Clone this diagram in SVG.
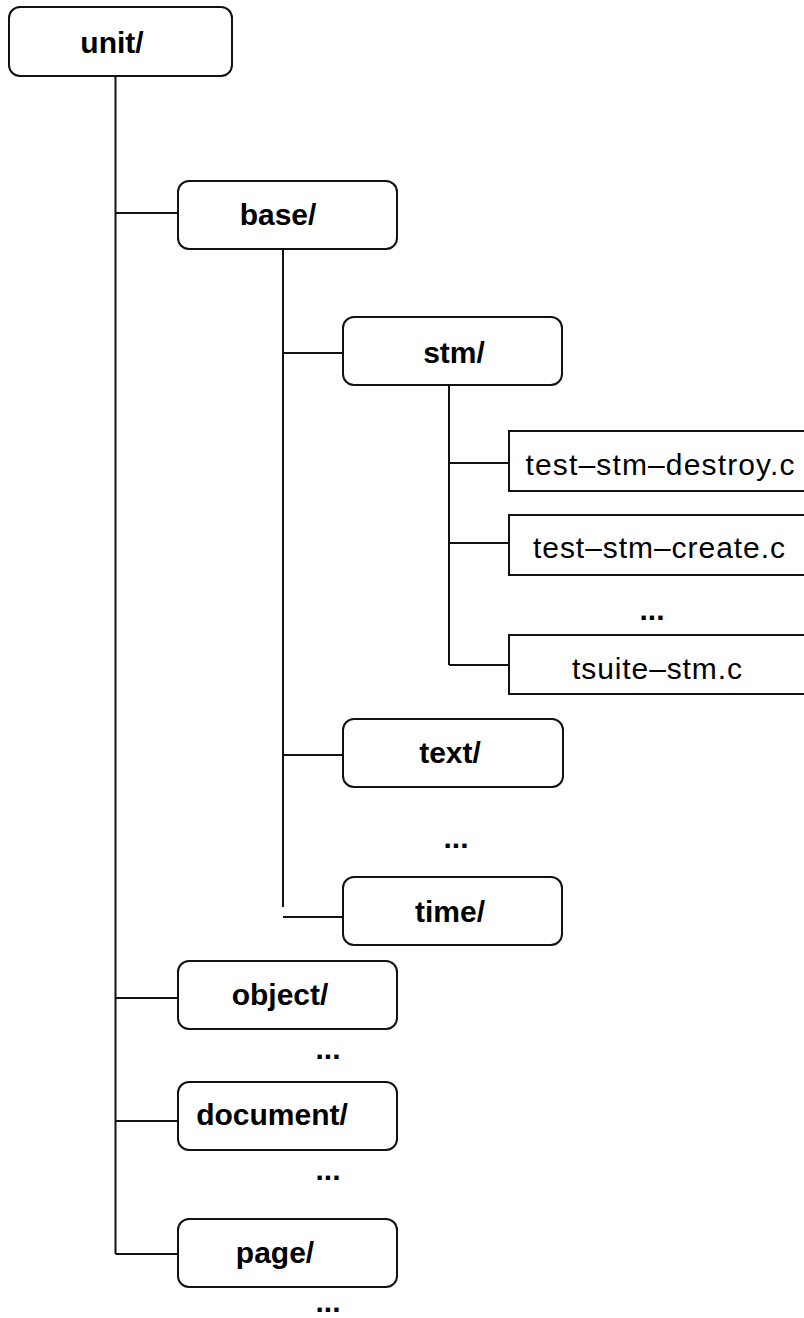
<svg xmlns="http://www.w3.org/2000/svg" width="804" height="1318" viewBox="0 0 804 1318">
<style>
.dir{fill:#fff;stroke:#111;stroke-width:2}
.file{fill:#fff;stroke:#111;stroke-width:2}
.dt{font-family:"Liberation Sans",Arial,sans-serif;font-weight:bold;font-size:30px;fill:#000;text-anchor:middle}
.ft{font-family:"Liberation Sans",Arial,sans-serif;font-size:30px;fill:#000;text-anchor:middle}
.dots{font-family:"Liberation Sans",Arial,sans-serif;font-weight:bold;font-size:30px;fill:#000;text-anchor:middle}
.c{stroke:#111;stroke-width:2;fill:none}
</style>
<rect width="804" height="1318" fill="#fff"/>
<g id="connectors">
<path class="c" d="M115.5 76 V1254 M115.5 213 H178 M115.5 998 H178 M115.5 1121 H178 M115.5 1254 H178"/>
<path class="c" d="M283 249 V907 M283 353 H343 M283 755 H343 M283 917 H343"/>
<path class="c" d="M449 384 V665 M449 463 H509 M449 543 H509 M449 665 H509"/>
</g>
<g id="unit"><rect class="dir" x="9" y="7" width="223" height="69" rx="11"/><text class="dt" x="112" y="53">unit/</text></g>
<g id="base"><rect class="dir" x="178" y="181" width="219" height="68" rx="11"/><text class="dt" x="278" y="225">base/</text></g>
<g id="stm"><rect class="dir" x="343" y="317" width="219" height="68" rx="11"/><text class="dt" x="454" y="363">stm/</text></g>
<g id="test-stm-destroy"><rect class="file" x="509" y="431" width="320" height="60"/><text class="ft" x="660" y="475" textLength="269" lengthAdjust="spacing">test–stm–destroy.c</text></g>
<g id="test-stm-create"><rect class="file" x="509" y="515" width="320" height="60"/><text class="ft" x="659" y="558" textLength="252" lengthAdjust="spacing">test–stm–create.c</text></g>
<text class="dots" x="652" y="620">...</text>
<g id="tsuite-stm"><rect class="file" x="509" y="635" width="320" height="59"/><text class="ft" x="657" y="679" textLength="170" lengthAdjust="spacing">tsuite–stm.c</text></g>
<g id="text"><rect class="dir" x="343" y="719" width="220" height="68" rx="11"/><text class="dt" x="450" y="763">text/</text></g>
<text class="dots" x="456" y="848">...</text>
<g id="time"><rect class="dir" x="343" y="877" width="219" height="68" rx="11"/><text class="dt" x="450" y="922">time/</text></g>
<g id="object"><rect class="dir" x="178" y="961" width="219" height="68" rx="11"/><text class="dt" x="280" y="1005">object/</text></g>
<text class="dots" x="328" y="1059">...</text>
<g id="document"><rect class="dir" x="178" y="1082" width="219" height="68" rx="11"/><text class="dt" x="272" y="1125">document/</text></g>
<text class="dots" x="328" y="1180">...</text>
<g id="page"><rect class="dir" x="178" y="1219" width="219" height="68" rx="11"/><text class="dt" x="275" y="1263">page/</text></g>
<text class="dots" x="328" y="1312">...</text>
</svg>
